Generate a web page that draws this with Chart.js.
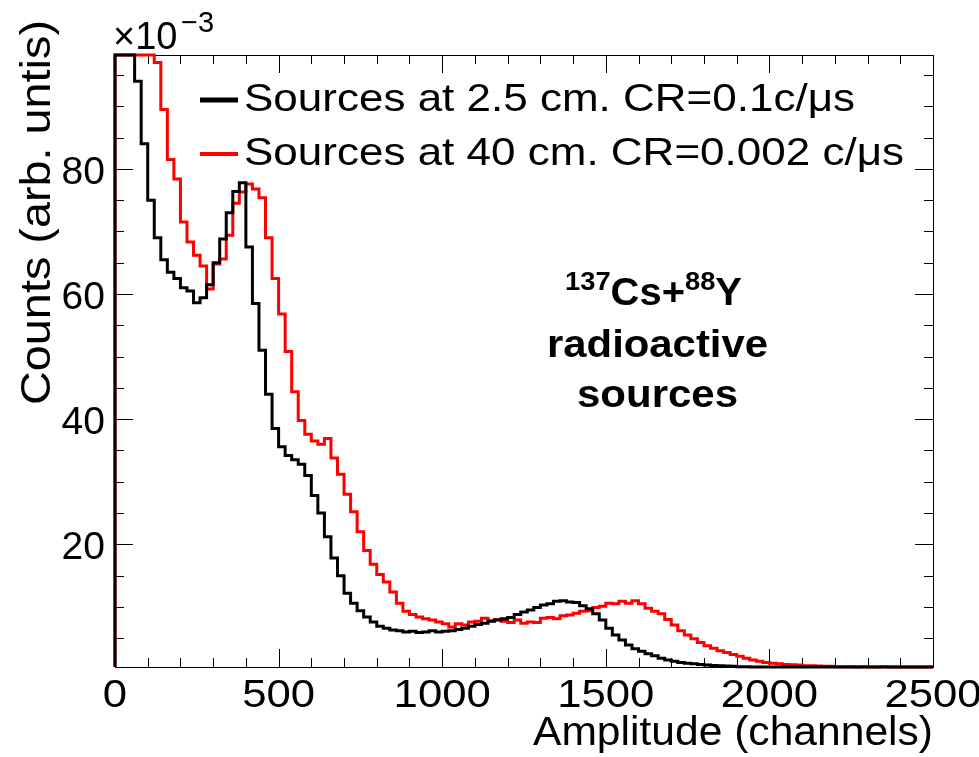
<!DOCTYPE html>
<html>
<head>
<meta charset="utf-8">
<script src="https://cdn.jsdelivr.net/npm/chart.js@4"></script>
<style>
  html, body { margin: 0; padding: 0; background: #fff; }
  canvas { display: block; }
</style>
</head>
<body>
<canvas id="chart" width="979" height="757"></canvas>
<script>
// spectrum, 20-channel bins from 0 to 2500, counts in units of 1e-3
const BIN_WIDTH = 20;
const X_MIN = 0, X_MAX = 2500;
const Y_MIN = 0.4, Y_MAX = 98.2;
const xTicks = [0, 500, 1000, 1500, 2000, 2500];
const yTicks = [20, 40, 60, 80];

// sources at 2.5 cm (black)
const nearCounts = [
  130, 120, 105, 94, 84, 75, 69, 65.5, 63.5, 62.5,
  61.0, 60.5, 58.6, 59.4, 61.5, 65.0, 68.8, 73.0, 76.4, 77.8,
  67.5, 58.5, 51.0, 44.0, 38.5, 35.6, 34.2, 33.5, 32.8, 31.0,
  27.8, 25.0, 21.2, 17.8, 15.0, 12.2, 10.6, 9.4, 8.4, 7.6,
  6.9, 6.6, 6.3, 6.2, 6.0, 6.1, 5.9, 6.0, 6.2, 6.0,
  6.1, 6.2, 6.4, 6.6, 6.9, 7.2, 7.4, 7.7, 7.9, 8.1,
  8.3, 8.8, 9.2, 9.5, 9.9, 10.3, 10.5, 10.9, 11.0, 10.8,
  10.7, 10.2, 9.7, 8.9, 7.9, 6.6, 5.5, 4.7, 3.9, 3.3,
  2.9, 2.5, 2.2, 1.8, 1.5, 1.3, 1.1, 1.0, 0.9, 0.8,
  0.7, 0.65, 0.6, 0.55, 0.5, 0.45, 0.45, 0.4, 0.4, 0.35,
  0.3, 0.3, 0.3, 0.3, 0.3, 0.25, 0.25, 0.25, 0.25, 0.25,
  0.2, 0.2, 0.2, 0.2, 0.2, 0.15, 0.15, 0.15, 0.15, 0.15,
  0.1, 0.1, 0.1, 0.1, 0.1
];

// sources at 40 cm (red)
const farCounts = [
  200, 200, 180, 160, 140, 120, 97, 89.5, 81.5, 78.4,
  71.5, 68.3, 66.2, 64.5, 60.8, 64.8, 65.6, 69.4, 74.5, 76.3,
  77.6, 76.8, 75.4, 69.0, 62.5, 56.8, 50.8, 44.4, 39.8, 37.6,
  36.5, 36.0, 36.9, 33.8, 31.2, 28.0, 25.2, 22.0, 19.0, 16.8,
  15.2, 14.0, 12.4, 10.6, 9.3, 8.8, 8.4, 8.1, 7.9, 7.6,
  7.3, 6.8, 7.3, 7.1, 7.6, 7.7, 8.2, 7.8, 8.0, 7.7,
  7.5, 7.9, 7.4, 7.6, 7.5, 8.2, 8.3, 8.1, 8.6, 8.7,
  9.0, 9.3, 9.4, 9.9, 10.1, 10.6, 10.5, 10.9, 10.6, 11.0,
  10.5, 9.8, 9.3, 8.9, 8.0, 7.1, 6.2, 5.5, 4.9, 4.3,
  3.8, 3.4, 3.0, 2.7, 2.4, 2.1, 1.8, 1.5, 1.3, 1.1,
  1.0, 0.9, 0.8, 0.75, 0.7, 0.6, 0.6, 0.55, 0.5, 0.5,
  0.45, 0.45, 0.45, 0.4, 0.45, 0.4, 0.4, 0.45, 0.4, 0.4,
  0.4, 0.4, 0.4, 0.4, 0.4
];

const legendLabels = ['Sources at 2.5 cm. CR=0.1c/\u03bcs', 'Sources at 40 cm. CR=0.002 c/\u03bcs'];
const legendColors = ['#000000', '#ff0000'];

const FONT = '"Liberation Sans", Arial, Helvetica, sans-serif';

// ROOT-like histogram outline: out-of-range bins sit on the frame edge
function toSteps(counts) {
  const pts = [{ x: X_MIN, y: Y_MIN }];
  counts.forEach((v, i) => {
    const y = Math.min(Math.max(v, Y_MIN), Y_MAX);
    pts.push({ x: i * BIN_WIDTH, y }, { x: (i + 1) * BIN_WIDTH, y });
  });
  return pts;
}

// text squeezed/stretched horizontally to a given width (ROOT fonts run wide)
function wideText(ctx, text, x, y, width, align) {
  const w = ctx.measureText(text).width;
  const k = width ? width / w : 1.12;
  ctx.save();
  ctx.translate(x, y);
  ctx.scale(k, 1);
  ctx.textAlign = align || 'left';
  ctx.fillText(text, 0, 0);
  ctx.restore();
}

const rootFrame = {
  id: 'rootFrame',
  beforeDatasetsDraw(chart) {
    const { ctx, chartArea: a, scales: { x, y } } = chart;
    ctx.save();
    ctx.strokeStyle = '#000';
    ctx.lineWidth = 1;
    ctx.strokeRect(a.left + 0.5, a.top + 0.5, a.right - a.left, a.bottom - a.top);
    ctx.beginPath();
    for (let v = X_MIN; v <= X_MAX; v += 100) {
      const px = Math.round(x.getPixelForValue(v)) + 0.5;
      const len = v % 500 === 0 ? 18 : 9;
      ctx.moveTo(px, a.bottom); ctx.lineTo(px, a.bottom - len);
      ctx.moveTo(px, a.top); ctx.lineTo(px, a.top + len);
    }
    for (let v = 5; v < Y_MAX; v += 5) {
      const py = Math.round(y.getPixelForValue(v)) + 0.5;
      const len = v % 20 === 0 ? 18 : 9;
      ctx.moveTo(a.left, py); ctx.lineTo(a.left + len, py);
      ctx.moveTo(a.right, py); ctx.lineTo(a.right - len, py);
    }
    ctx.stroke();
    ctx.restore();
  },
  afterDraw(chart) {
    const { ctx, chartArea: a, scales: { x, y } } = chart;
    ctx.save();
    ctx.fillStyle = '#000';
    ctx.textBaseline = 'alphabetic';

    // tick labels
    ctx.font = '39px ' + FONT;
    xTicks.forEach(v => wideText(ctx, String(v), x.getPixelForValue(v), a.bottom + 40, 0, 'center'));
    ctx.textAlign = 'right';
    yTicks.forEach(v => ctx.fillText(String(v), a.left - 10, y.getPixelForValue(v) + 15));

    // axis titles
    ctx.font = '40px ' + FONT;
    wideText(ctx, 'Amplitude (channels)', a.right, 745, 400, 'right');
    ctx.save();
    ctx.translate(50, 20);
    ctx.rotate(-Math.PI / 2);
    ctx.font = '42px ' + FONT;
    wideText(ctx, 'Counts (arb. untis)', 0, 0, 385, 'right');
    ctx.restore();

    // exponent
    ctx.font = '38px ' + FONT;
    ctx.textAlign = 'left';
    ctx.fillText('\u00d710', 113, 49);
    ctx.font = '29px ' + FONT;
    ctx.fillText('\u22123', 181, 32);

    // legend
    ctx.font = '39px ' + FONT;
    legendLabels.forEach((label, i) => {
      const ly = 100 + i * 54;
      ctx.strokeStyle = legendColors[i];
      ctx.lineWidth = i === 0 ? 5 : 4;
      ctx.beginPath();
      ctx.moveTo(200, ly); ctx.lineTo(238, ly);
      ctx.stroke();
      wideText(ctx, label, 244, ly + 11, i === 0 ? 611 : 660, 'left');
    });

    // annotation
    const big = 'bold 38px ' + FONT, sup = 'bold 26px ' + FONT;
    const parts = [['137', sup, -15], ['Cs+', big, 0], ['88', sup, -15], ['Y', big, 0]];
    let w = 0;
    parts.forEach(p => { ctx.font = p[1]; w += ctx.measureText(p[0]).width; });
    const k = 177 / w;
    ctx.save();
    ctx.translate(653.5 - 177 / 2, 305);
    ctx.scale(k, 1);
    let cx = 0;
    parts.forEach(p => { ctx.font = p[1]; ctx.fillText(p[0], cx, p[2]); cx += ctx.measureText(p[0]).width; });
    ctx.restore();
    ctx.font = big;
    wideText(ctx, 'radioactive', 657.5, 357, 221, 'center');
    wideText(ctx, 'sources', 657.5, 407, 161, 'center');
    ctx.restore();
  }
};

new Chart(document.getElementById('chart'), {
  type: 'line',
  data: {
    datasets: [
      { data: toSteps(nearCounts), borderColor: '#000000', borderWidth: 3, pointRadius: 0, fill: false, tension: 0, clip: 3 },
      { data: toSteps(farCounts), borderColor: '#ff0000', borderWidth: 3, pointRadius: 0, fill: false, tension: 0, clip: 3 }
    ]
  },
  options: {
    responsive: false,
    animation: false,
    events: [],
    layout: { padding: { left: 115, right: 46, top: 55, bottom: 90 } },
    plugins: { legend: { display: false }, tooltip: { enabled: false } },
    scales: {
      x: { type: 'linear', min: X_MIN, max: X_MAX, display: false },
      y: { type: 'linear', min: Y_MIN, max: Y_MAX, display: false }
    }
  },
  plugins: [rootFrame]
});
</script>
</body>
</html>
